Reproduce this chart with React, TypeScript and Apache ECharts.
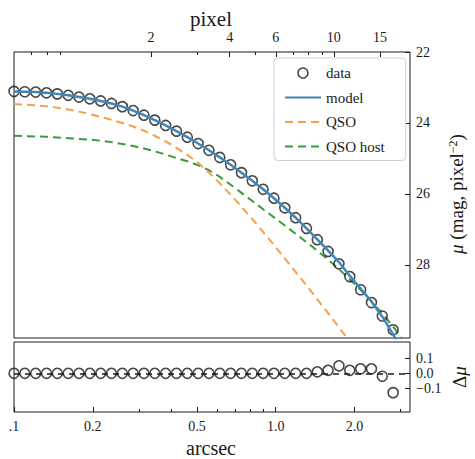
import React, { useEffect, useRef } from 'react';
import * as echarts from 'echarts';

// radius grid (arcsec)
const ARCSEC = [0.1, 0.11, 0.121, 0.1331, 0.1464, 0.1611, 0.1772, 0.1949, 0.2144, 0.2358, 0.2594, 0.2853, 0.3138, 0.3452, 0.3797, 0.4177, 0.4595, 0.5054, 0.556, 0.6116, 0.6727, 0.74, 0.814, 0.8954, 0.985, 1.0835, 1.1918, 1.311, 1.4421, 1.5863, 1.7449, 1.9194, 2.1114, 2.3225, 2.5548, 2.8102, 3.0913];
// observed surface brightness (mag / pixel^2)
const DATA_MU = [23.11, 23.12, 23.13, 23.15, 23.18, 23.22, 23.27, 23.32, 23.38, 23.45, 23.54, 23.65, 23.78, 23.92, 24.07, 24.23, 24.4, 24.58, 24.77, 24.97, 25.18, 25.4, 25.63, 25.87, 26.12, 26.39, 26.67, 26.97, 27.29, 27.62, 27.97, 28.33, 28.7, 29.06, 29.44, 29.83, 30.25];
// total model
const MODEL_MU = [23.11, 23.12, 23.13, 23.15, 23.18, 23.22, 23.27, 23.32, 23.38, 23.45, 23.54, 23.65, 23.78, 23.92, 24.07, 24.23, 24.4, 24.58, 24.77, 24.97, 25.18, 25.4, 25.63, 25.87, 26.12, 26.39, 26.67, 26.97, 27.28, 27.6, 27.92, 28.31, 28.67, 29.03, 29.46, 29.96, 30.5];
// QSO (point source) component
const QSO_MU = [23.47, 23.48, 23.5, 23.53, 23.57, 23.62, 23.68, 23.75, 23.83, 23.91, 24.0, 24.1, 24.22, 24.36, 24.52, 24.7, 24.9, 25.12, 25.4, 25.7, 26.02, 26.36, 26.71, 27.07, 27.44, 27.82, 28.2, 28.58, 28.97, 29.36, 29.76, 30.16, 30.57];
// QSO host component
const HOST_MU = [24.36, 24.37, 24.38, 24.39, 24.41, 24.43, 24.45, 24.47, 24.5, 24.54, 24.59, 24.65, 24.72, 24.8, 24.89, 24.99, 25.08, 25.19, 25.33, 25.52, 25.74, 25.97, 26.2, 26.43, 26.66, 26.89, 27.12, 27.36, 27.6, 27.85, 28.12, 28.41, 28.71, 29.03, 29.37, 29.74, 30.15];
// residuals (data - model)
const RESID = [0, 0, 0, 0, 0, 0, 0, 0, 0, 0, 0, 0, 0, 0, 0, 0, 0, 0, 0, 0, 0, 0, 0, 0, 0, 0, 0, 0, 0.01, 0.02, 0.05, 0.02, 0.03, 0.03, -0.02, -0.13, -0.29];

const PIXEL_SCALE = 0.1668; // arcsec per pixel
const X_MIN = 0.1;
const X_MAX = 3.26;
const ARCSEC_TICKS = [0.1, 0.2, 0.5, 1, 2];
const ARCSEC_MINOR = [0.3, 0.4, 0.6, 0.7, 0.8, 0.9, 3];
const PIXEL_TICKS = [2, 4, 6, 10, 15];
const PIXEL_MINOR = [0.7, 0.8, 0.9, 3, 5, 7, 8, 9];
const MU_TICKS = [22, 24, 26, 28];
const RESID_TICKS = [-0.1, 0, 0.1];

const FONT = '"Liberation Serif", "DejaVu Serif", serif';
const INK = '#1a1a1a';
const C_MODEL = '#3f86b9';
const C_QSO = '#f5a04e';
const C_HOST = '#3a9b3a';
const NO_MARK = { color: 'rgba(0,0,0,0)', borderColor: 'rgba(0,0,0,0)', borderWidth: 0 };

export default function App() {
  const ref = useRef<HTMLDivElement>(null);
  useEffect(() => {
    if (!ref.current) return;
    const chart = echarts.init(ref.current, undefined, { renderer: 'svg' });
    const pts = (ys: number[]) => ys.map((y, i) => [ARCSEC[i], y]);
    const tickLabel = { fontFamily: FONT, fontSize: 14, color: INK };
    const logX = (gridIndex: number, position: string, min: number, max: number, extra: any) => ({
      type: 'log', logBase: 10, gridIndex, position, min, max,
      axisLine: { show: false, onZero: false },
      splitLine: { show: false },
      ...extra,
    });
    const option: any = {
      animation: false,
      backgroundColor: '#fff',
      grid: [
        { left: 14, top: 52, width: 396, height: 286, show: true, borderColor: INK, borderWidth: 1, containLabel: false },
        { left: 14, top: 342, width: 396, height: 70, show: true, borderColor: INK, borderWidth: 1, containLabel: false },
      ],
      xAxis: [
        logX(0, 'bottom', X_MIN, X_MAX, { axisTick: { show: false }, axisLabel: { show: false } }),
        logX(0, 'top', X_MIN / PIXEL_SCALE, X_MAX / PIXEL_SCALE, {
          axisTick: { show: true, inside: true, length: 5, lineStyle: { color: INK }, customValues: PIXEL_TICKS },
          axisLabel: { show: true, ...tickLabel, margin: 8, customValues: PIXEL_TICKS, formatter: (v: number) => String(Math.round(v)) },
        }),
        logX(0, 'top', X_MIN / PIXEL_SCALE, X_MAX / PIXEL_SCALE, {
          axisTick: { show: true, inside: true, length: 3, lineStyle: { color: INK }, customValues: PIXEL_MINOR },
          axisLabel: { show: false },
        }),
        logX(1, 'bottom', X_MIN, X_MAX, {
          axisTick: { show: true, inside: true, length: 5, lineStyle: { color: INK }, customValues: ARCSEC_TICKS },
          axisLabel: { show: true, ...tickLabel, margin: 7, customValues: ARCSEC_TICKS, formatter: (v: number) => (Math.abs(v - 0.1) < 1e-6 ? '.1' : v.toFixed(1)) },
        }),
        logX(1, 'bottom', X_MIN, X_MAX, {
          axisTick: { show: true, inside: true, length: 3, lineStyle: { color: INK }, customValues: ARCSEC_MINOR },
          axisLabel: { show: false },
        }),
      ],
      yAxis: [
        {
          type: 'value', gridIndex: 0, position: 'right', inverse: true, min: 22, max: 30.06,
          axisLine: { show: false, onZero: false }, splitLine: { show: false },
          axisTick: { show: true, inside: true, length: 5, lineStyle: { color: INK }, customValues: MU_TICKS },
          axisLabel: { show: true, ...tickLabel, margin: 6, customValues: MU_TICKS },
        },
        {
          type: 'value', gridIndex: 1, position: 'right', min: -0.26, max: 0.21,
          axisLine: { show: false, onZero: false }, splitLine: { show: false },
          axisTick: { show: true, inside: true, length: 5, lineStyle: { color: INK }, customValues: RESID_TICKS },
          axisLabel: {
            show: true, ...tickLabel, margin: 6, customValues: RESID_TICKS,
            formatter: (v: number) => (v < -1e-9 ? '\u2212' + Math.abs(v).toFixed(1) : Math.abs(v).toFixed(1)),
          },
        },
      ],
      legend: {
        orient: 'vertical', left: 274, top: 58, padding: [7, 21, 6, 10],
        itemWidth: 36, itemHeight: 10, itemGap: 8.5,
        backgroundColor: '#fff', borderColor: '#cfcfcf', borderWidth: 1, borderRadius: 4,
        textStyle: { fontFamily: FONT, fontSize: 15, color: INK, lineHeight: 16 },
        data: [
          { name: 'data', icon: 'circle', itemStyle: { color: 'rgba(0,0,0,0)', borderColor: INK, borderWidth: 1.6 } },
          { name: 'model', itemStyle: NO_MARK },
          { name: 'QSO', itemStyle: NO_MARK },
          { name: 'QSO host', itemStyle: NO_MARK },
        ],
      },
      series: [
        {
          name: 'QSO host', type: 'line', xAxisIndex: 0, yAxisIndex: 0, data: pts(HOST_MU),
          symbol: 'none', lineStyle: { color: C_HOST, width: 2, type: [8, 5] }, itemStyle: { color: C_HOST }, z: 2,
        },
        {
          name: 'QSO', type: 'line', xAxisIndex: 0, yAxisIndex: 0, data: pts(QSO_MU),
          symbol: 'none', lineStyle: { color: C_QSO, width: 2, type: [8, 5] }, itemStyle: { color: C_QSO }, z: 2,
        },
        {
          name: 'data', type: 'scatter', xAxisIndex: 0, yAxisIndex: 0, data: pts(DATA_MU),
          symbol: 'circle', symbolSize: 10,
          itemStyle: { color: 'rgba(0,0,0,0)', borderColor: INK, borderWidth: 1.6 }, z: 3,
        },
        {
          name: 'model', type: 'line', xAxisIndex: 0, yAxisIndex: 0, data: pts(MODEL_MU),
          symbol: 'none', lineStyle: { color: C_MODEL, width: 2.5 }, itemStyle: { color: C_MODEL }, z: 4,
        },
        {
          name: 'residual', type: 'scatter', xAxisIndex: 3, yAxisIndex: 1, data: pts(RESID),
          symbol: 'circle', symbolSize: 10,
          itemStyle: { color: 'rgba(0,0,0,0)', borderColor: INK, borderWidth: 1.6 }, z: 3,
          markLine: {
            silent: true, symbol: 'none', label: { show: false },
            lineStyle: { color: INK, type: [6, 5], width: 1.5 },
            data: [{ yAxis: 0 }],
          },
        },
      ],
      graphic: [
        { type: 'text', x: 211, y: 19, style: { text: 'pixel', font: `21px ${FONT}`, fill: INK, align: 'center', verticalAlign: 'middle' } },
        { type: 'text', x: 211, y: 448, style: { text: 'arcsec', font: `20px ${FONT}`, fill: INK, align: 'center', verticalAlign: 'middle' } },
        {
          type: 'text', x: 456, y: 194, rotation: Math.PI / 2,
          style: {
            text: '{i|\u03bc} (mag, pixel{s|\u22122})', fill: INK, align: 'center', verticalAlign: 'middle',
            font: `19px ${FONT}`,
            rich: {
              i: { fontFamily: FONT, fontSize: 19, fontStyle: 'italic', fill: INK },
              s: { fontFamily: FONT, fontSize: 12, fill: INK, verticalAlign: 'top', lineHeight: 14 },
            },
          },
        },
        {
          type: 'text', x: 459, y: 377, rotation: Math.PI / 2,
          style: {
            text: '\u0394{i|\u03bc}', fill: INK, align: 'center', verticalAlign: 'middle', font: `19px ${FONT}`,
            rich: { i: { fontFamily: FONT, fontSize: 19, fontStyle: 'italic', fill: INK } },
          },
        },
      ],
    };
    chart.setOption(option);
    return () => chart.dispose();
  }, []);
  return <div ref={ref} style={{ position: 'absolute', left: 0, top: 0, width: 475, height: 459 }} />;
}
